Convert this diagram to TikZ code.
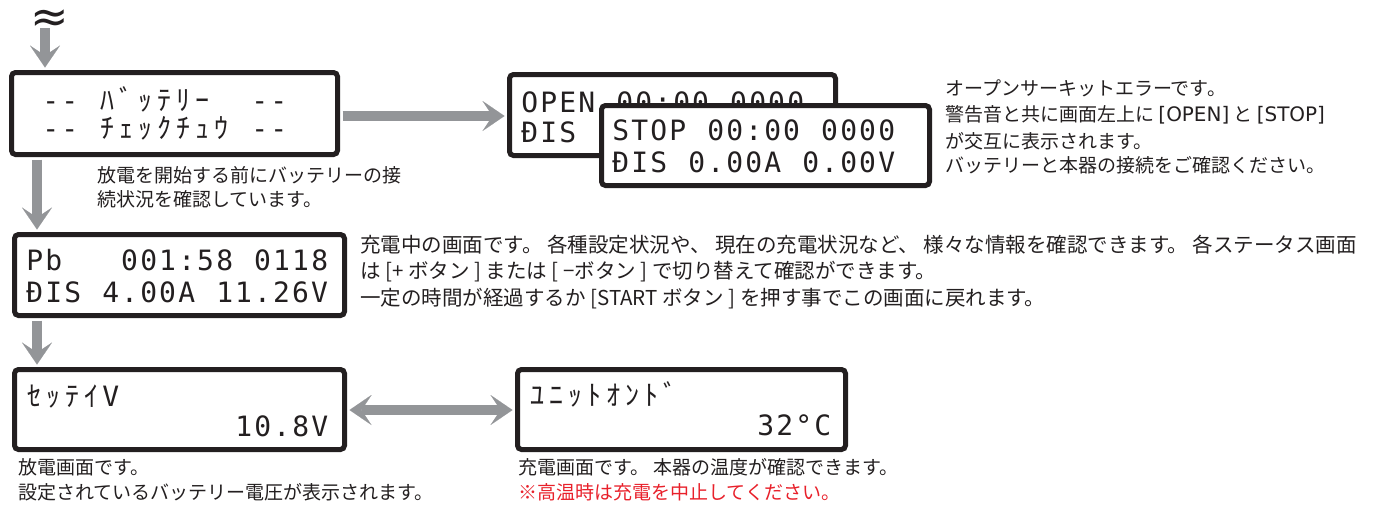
\documentclass[tikz,border=0pt]{standalone}
\usepackage{fontspec}
\usetikzlibrary{arrows.meta}
\setmainfont{Noto Sans CJK JP}
\newfontfamily\jpfont{Noto Sans CJK JP}[WordSpace=2]
\newfontfamily\jpmid{Noto Sans CJK JP}
\newfontfamily\latfont{DejaVu Sans}[Scale=1.05]
\newfontfamily\lcdl{DejaVu Sans Mono}
\newfontfamily\lcdk{Noto Sans CJK JP}
\newfontfamily\symfont{DejaVu Sans}
\newcommand\lat[1]{{\latfont #1}}
\definecolor{ink}{HTML}{231F20}
\definecolor{arrowgray}{HTML}{939598}
\definecolor{warnred}{HTML}{E8202A}
\newlength\lcdw \setlength\lcdw{19pt}
\makeatletter
\def\lcdend{\lcdend}
\def\lcdstr#1{\lcd@loop#1\lcdend}
\def\lcd@loop#1{\ifx#1\lcdend\else\lcd@cell{#1}\expandafter\lcd@loop\fi}
\def\lcd@cell#1{\makebox[\lcdw][c]{\ifnum`#1>12000 \lcdk\else\lcdl\fi\fontsize{28}{28}\selectfont #1}}
\makeatother
\tikzset{
  lcdbox/.style={draw=ink, line width=5pt, rounded corners=4pt, fill=white, inner sep=0pt},
  lcdtext/.style={anchor=base west, inner sep=0pt, text=ink},
  desc/.style={anchor=base west, inner sep=0pt, text=ink, font=\jpfont\fontsize{19}{19}\selectfont},
  descm/.style={anchor=base west, inner sep=0pt, text=ink, font=\jpmid\fontsize{20.5}{20.5}\selectfont},
  arr/.style={draw=arrowgray, line width=10pt, -{Stealth[length=22pt,width=30pt,inset=10pt,line width=0.01pt]}},
  arrboth/.style={draw=arrowgray, line width=10pt, {Stealth[length=22pt,width=30pt,inset=10pt,line width=0.01pt]}-{Stealth[length=22pt,width=30pt,inset=10pt,line width=0.01pt]}}
}
\begin{document}
\begin{tikzpicture}[x=1pt,y=-1pt]
\useasboundingbox (0,0) rectangle (1386,512);
% AC symbol
\node[inner sep=0pt, text=ink, font=\symfont\fontsize{46}{46}\selectfont] (acsym) at (50,21) {≈};
\coordinate (acin) at (45,28);
% boxes
\node[lcdbox, minimum width=326pt, minimum height=82pt] (box1) at (174.5,113.5) {};
\node[lcdtext] (b1l1) at (22,110) {\lcdstr{~--~ﾊﾞｯﾃﾘｰ~~--}};
\node[lcdtext] (b1l2) at (22,138) {\lcdstr{~--~ﾁｪｯｸﾁｭｳ~--}};

\node[lcdbox, minimum width=326pt, minimum height=81pt] (open) at (672.5,115) {};
\node[lcdtext] (opl1) at (520,112) {\lcdstr{OPEN~00:00~0000}};
\node[lcdtext] (opl2) at (520,142) {\lcdstr{ĐIS}};
\node[lcdbox, minimum width=328pt, minimum height=80pt] (stop) at (765.5,145.5) {};
\node[lcdtext] (stl1) at (611,140) {\lcdstr{STOP~00:00~0000}};
\node[lcdtext] (stl2) at (611,172) {\lcdstr{ĐIS~0.00A~0.00V}};

\node[lcdbox, minimum width=330pt, minimum height=81pt] (pb) at (179.5,275) {};
\node[lcdtext] (pbl1) at (25,270) {\lcdstr{Pb~~~001:58~0118}};
\node[lcdtext] (pbl2) at (25,302) {\lcdstr{ĐIS~4.00A~11.26V}};

\node[lcdbox, minimum width=330pt, minimum height=80pt] (setv) at (179.5,409.5) {};
\node[lcdtext] (svl1) at (25,406) {\lcdstr{ｾｯﾃｲV}};
\node[lcdtext] (svl2) at (25,436) {\lcdstr{~~~~~~~~~~~10.8V}};

\node[lcdbox, minimum width=328pt, minimum height=80pt] (unit) at (681.5,409.5) {};
\node[lcdtext] (unl1) at (528,405) {\lcdstr{ﾕﾆｯﾄｵﾝﾄﾞ}};
\node[lcdtext] (unl2) at (528,435) {\lcdstr{~~~~~~~~~~~~32°C}};

% arrows
\draw[arr, shorten >=2.5pt] (acin) -- (acin |- box1.north);
\coordinate (vx) at (37,0);
\draw[arr, shorten <=2.5pt, shorten >=2.5pt] (box1.south -| vx) -- (pb.north -| vx);
\draw[arr, shorten <=2.5pt, shorten >=2.5pt] (pb.south -| vx) -- (setv.north -| vx);
\draw[arr, shorten <=2.5pt, shorten >=2.5pt] (box1.east |- 0,116) -- (open.west |- 0,116);
\draw[arrboth, shorten <=2.5pt, shorten >=2.5pt] (setv.east |- 0,410) -- (unit.west |- 0,410);

% descriptions
\node[desc] (d1a) at (97,182) {放電を開始する前にバッテリーの接};
\node[desc] (d1b) at (97,206) {続状況を確認しています。};

\node[desc] (r1) at (945,95) {オープンサーキットエラーです。};
\node[desc] (r2) at (945,121) {警告音と共に画面左上に \lat{[OPEN]} と \lat{[STOP]}};
\node[desc] (r3) at (945,148) {が交互に表示されます。};
\node[desc] (r4) at (945,172) {バッテリーと本器の接続をご確認ください。};

\node[descm] (m1) at (360,252) {充電中の画面です。 各種設定状況や、 現在の充電状況など、 様々な情報を確認できます。 各ステータス画面};
\node[descm] (m2) at (360,278) {は [+ ボタン ] または [ −ボタン ] で切り替えて確認ができます。};
\node[descm] (m3) at (360,305) {一定の時間が経過するか [START ボタン ] を押す事でこの画面に戻れます。};

\node[desc] (bl1) at (18,474) {放電画面です。};
\node[desc] (bl2) at (18,499) {設定されているバッテリー電圧が表示されます。};
\node[desc] (br1) at (518,474) {充電画面です。 本器の温度が確認できます。};
\node[desc, text=warnred] (br2) at (518,499) {※高温時は充電を中止してください。};
\end{tikzpicture}
\end{document}
